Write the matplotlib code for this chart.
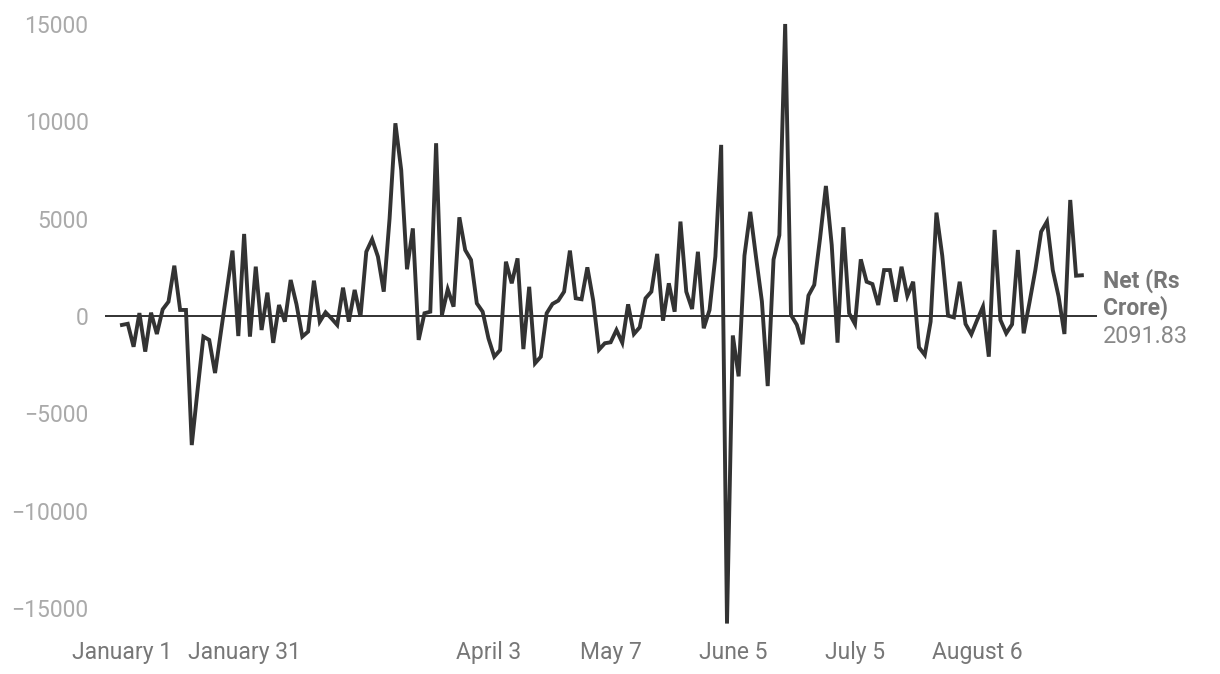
import matplotlib
matplotlib.use("Agg")
import matplotlib.pyplot as plt

plt.rcParams["font.family"] = ["Roboto", "DejaVu Sans"]

# daily net flows, Rs crore
net = [
    -460, -400, -1580, 150, -1830, 170, -925, 340, 735, 2585,
    310, 310, -6630, -3800, -1060, -1230, -2930, -850, 1250, 3360,
    -1030, 4215, -1060, 2535, -720, 1200, -1380, 565, -290, 1850,
    600, -1060, -800, 1815, -290, 190, -120, -460, 1455, -290,
    1340, -35, 3300, 3940, 3050, 1250, 5000, 9900, 7500, 2400,
    4500, -1230, 140, 220, 8875, 50, 1370, 480, 5070, 3390,
    2880, 650, 220, -1150, -2090, -1750, 2790, 1680, 2960, -1700,
    1500, -2430, -2090, 140, 620, 790, 1250, 3360, 910, 860,
    2500, 800, -1730, -1400, -1350, -720, -1370, 600, -925, -580,
    910, 1250, 3190, -240, 1680, 220, 4850, 1250, 360, 3300,
    -630, 310, 3050, 8790, -15800, -1000, -3100, 3100, 5350, 3000,
    750, -3600, 2900, 4150, 15000, 50, -450, -1450, 1050, 1600,
    4000, 6680, 3650, -1370, 4560, 140, -410, 2910, 1760, 1640,
    565, 2360, 2360, 735, 2530, 1030, 1760, -1610, -2000, -290,
    5310, 3100, 15, -70, 1760, -410, -940, -205, 480, -2090,
    4420, -205, -890, -430, 3390, -890, 700, 2360, 4330, 4850,
    2360, 1000, -925, 5960, 2070, 2091.83,
]

tick_pos = [0, 21, 63, 84, 105, 126, 147]
tick_labels = ["January 1", "January 31", "April 3", "May 7", "June 5", "July 5", "August 6"]
y_ticks = [-15000, -10000, -5000, 0, 5000, 10000, 15000]

fig = plt.figure(figsize=(12.2, 6.74), dpi=100)
ax = fig.add_axes([104.5 / 1220, 1 - 630 / 674, (1097 - 104.5) / 1220, (630 - 15) / 674])

x = list(range(len(net)))
ax.axhline(0, color="#222222", lw=1.3, zorder=1)
ax.plot(x, net, color="#333333", lw=2.8, solid_joinstyle="miter", zorder=2)

ax.set_xlim(-3, 167.6)
ax.set_ylim(-16130, 15462)

ax.set_xticks(tick_pos)
ax.set_xticklabels(tick_labels, color="#777777", fontsize=16.5)
ax.set_yticks(y_ticks)
ax.set_yticklabels([f"{v}".replace("-", "\u2212") for v in y_ticks], color="#aaaaaa", fontsize=16.5)
ax.tick_params(axis="both", length=0)
ax.tick_params(axis="x", pad=8)
ax.tick_params(axis="y", pad=11.5)
for s in ax.spines.values():
    s.set_visible(False)

ax.annotate("Net (Rs\nCrore)", xy=(x[-1], net[-1]), xytext=(15, 5),
            textcoords="offset points", ha="left", va="top",
            fontsize=16.5, fontweight="bold", color="#777777", linespacing=1.15,
            annotation_clip=False)
ax.annotate(f"{net[-1]:.2f}", xy=(x[-1], net[-1]), xytext=(15, -36),
            textcoords="offset points", ha="left", va="top",
            fontsize=16.8, color="#888888", annotation_clip=False)

fig.savefig("out.png", dpi=100)
plt.close(fig)
